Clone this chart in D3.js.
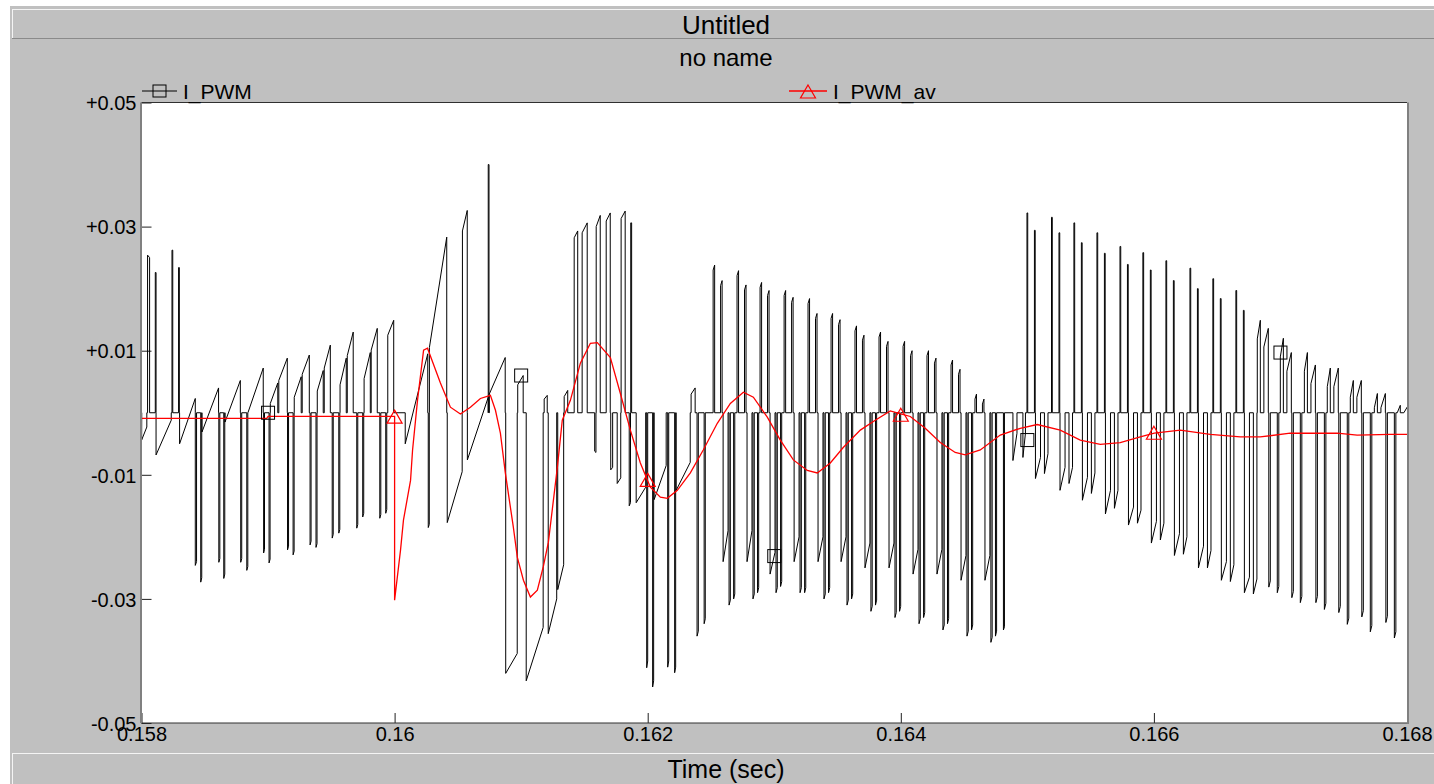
<!DOCTYPE html>
<html>
<head>
<meta charset="utf-8">
<script src="https://cdn.jsdelivr.net/npm/d3@7"></script>
<style>
  body { margin: 0; background: #ffffff; }
  svg text { font-family: "Liberation Sans", Arial, sans-serif; fill: #000; }
</style>
</head>
<body>
<div id="chart"></div>
<script>
// ---- data ----
var chartTitle = "Untitled";
var chartSubtitle = "no name";
var xLabel = "Time (sec)";
var seriesNames = ["I_PWM", "I_PWM_av"];

var xTicks = [0.158, 0.160, 0.162, 0.164, 0.166, 0.168];
var xTickLabels = ["0.158", "0.16", "0.162", "0.164", "0.166", "0.168"];
var yTicks = [0.05, 0.03, 0.01, -0.01, -0.03, -0.05];
var yTickLabels = ["+0.05", "+0.03", "+0.01", "-0.01", "-0.03", "-0.05"];

// I_PWM rests at this level between pulses
var pwmBase = 0.0;

// I_PWM pulses: [start time, end time, start value, end value]
var pwmPulsesA = [
  [0.158001, 0.158042, -0.0044, -0.0023],
  [0.158048, 0.158064, 0.0254, 0.0250],
  [0.158109, 0.158115, 0.0226, 0.0226],
  [0.158115, 0.158235, -0.0068, -0.0012],
  [0.158241, 0.158247, 0.0262, 0.0262],
  [0.158293, 0.158299, 0.0234, 0.0234],
  [0.158301, 0.158425, -0.0050, 0.0023],
  [0.158425, 0.158435, -0.0246, -0.0240],
  [0.158468, 0.158476, -0.0273, -0.0266],
  [0.158478, 0.158609, -0.0031, 0.0040],
  [0.158611, 0.158619, -0.0241, -0.0235],
  [0.158650, 0.158658, -0.0267, -0.0260],
  [0.158660, 0.158781, -0.0015, 0.0052],
  [0.158784, 0.158792, -0.0241, -0.0235],
  [0.158832, 0.158840, -0.0254, -0.0248],
  [0.158841, 0.158962, 0.0000, 0.0072],
  [0.158965, 0.158972, -0.0226, -0.0220],
  [0.159008, 0.159016, -0.0242, -0.0236],
  [0.159018, 0.159077, 0.0015, 0.0048],
  [0.159085, 0.159152, 0.0052, 0.0088],
  [0.159154, 0.159162, -0.0221, -0.0215],
  [0.159198, 0.159206, -0.0229, -0.0223],
  [0.159207, 0.159262, 0.0025, 0.0058],
  [0.159270, 0.159326, 0.0062, 0.0093],
  [0.159332, 0.159340, -0.0213, -0.0207],
  [0.159379, 0.159387, -0.0217, -0.0211],
  [0.159389, 0.159436, 0.0035, 0.0068],
  [0.159444, 0.159492, 0.0072, 0.0109],
  [0.159507, 0.159515, -0.0202, -0.0196],
  [0.159559, 0.159567, -0.0194, -0.0188],
  [0.159569, 0.159618, 0.0045, 0.0088],
  [0.159626, 0.159673, 0.0092, 0.0130],
  [0.159701, 0.159709, -0.0186, -0.0180],
  [0.159748, 0.159756, -0.0168, -0.0162],
  [0.159759, 0.159808, 0.0055, 0.0097],
  [0.159815, 0.159863, 0.0101, 0.0136],
  [0.159883, 0.159891, -0.0170, -0.0164],
  [0.159930, 0.159938, -0.0162, -0.0156],
  [0.159946, 0.159993, 0.0125, 0.0149]
];

var pwmPulsesB = [
  [0.160084, 0.160262, -0.0050, 0.0095],
  [0.160266, 0.160274, -0.0185, -0.0180],
  [0.160275, 0.160412, 0.0105, 0.0283],
  [0.160416, 0.160534, -0.0177, -0.0095],
  [0.160536, 0.160574, 0.0293, 0.0326],
  [0.160575, 0.160740, -0.0076, 0.0025],
  [0.160740, 0.160746, 0.0400, 0.0400],
  [0.160748, 0.160874, 0.0030, 0.0089],
  [0.160878, 0.160969, -0.0420, -0.0388],
  [0.160973, 0.161016, 0.0045, 0.0060],
  [0.161040, 0.161174, -0.0432, -0.0346],
  [0.161182, 0.161206, 0.0022, 0.0028],
  [0.161214, 0.161281, -0.0356, -0.0300],
  [0.161289, 0.161336, -0.0285, -0.0245],
  [0.161340, 0.161368, 0.0026, 0.0036]
];

var pwmPulsesC = [
  [0.161419, 0.161447, 0.0282, 0.0293],
  [0.161482, 0.161522, 0.0290, 0.0306],
  [0.161581, 0.161591, -0.0062, -0.0064],
  [0.161593, 0.161625, 0.0300, 0.0318],
  [0.161672, 0.161704, 0.0309, 0.0322],
  [0.161708, 0.161723, -0.0092, -0.0088],
  [0.161759, 0.161787, -0.0114, -0.0105],
  [0.161790, 0.161822, 0.0313, 0.0325],
  [0.161854, 0.161864, -0.0150, -0.0145],
  [0.161866, 0.161873, 0.0306, 0.0306],
  [0.161909, 0.161984, -0.0145, -0.0120],
  [0.161992, 0.162000, -0.0411, -0.0400],
  [0.162039, 0.162047, -0.0442, -0.0432],
  [0.162051, 0.162146, -0.0140, -0.0085],
  [0.162158, 0.162166, -0.0410, -0.0400],
  [0.162213, 0.162221, -0.0419, -0.0410],
  [0.162225, 0.162336, -0.0125, -0.0080],
  [0.162343, 0.162375, 0.0030, 0.0040],
  [0.162390, 0.162400, -0.0360, -0.0352],
  [0.162446, 0.162455, -0.0340, -0.0332]
];

// single pulses between the two regular stretches
var pwmPulsesDE = [
  [0.164811, 0.164819, -0.0350, -0.0345],
  [0.164886, 0.164918, -0.0077, -0.0033],
  [0.164965, 0.164985, -0.0072, -0.0033]
];

// regular switching stretch D: cycle start times, pulse timing inside a cycle (microseconds)
// and per cycle the [start, end] value of each pulse
var cycleStartD = [0.162517, 0.162706, 0.162888, 0.163078, 0.163267, 0.163449,
  0.163638, 0.163828, 0.164018, 0.164207, 0.164397, 0.164586];
var patternD = [[0, 12], [59, 71], [79, 118], [126, 136], [162, 171]];
var levelsD = [
  [[0.0230, 0.0238], [0.0205, 0.0213], [-0.0240, -0.0190], [-0.0310, -0.0302], [-0.0300, -0.0292]],
  [[0.0221, 0.0229], [0.0198, 0.0206], [-0.0240, -0.0190], [-0.0300, -0.0292], [-0.0290, -0.0282]],
  [[0.0202, 0.0210], [0.0189, 0.0197], [-0.0260, -0.0225], [-0.0290, -0.0282], [-0.0280, -0.0272]],
  [[0.0189, 0.0197], [0.0178, 0.0186], [-0.0240, -0.0200], [-0.0290, -0.0282], [-0.0290, -0.0282]],
  [[0.0176, 0.0184], [0.0152, 0.0160], [-0.0240, -0.0200], [-0.0300, -0.0292], [-0.0290, -0.0282]],
  [[0.0152, 0.0160], [0.0142, 0.0150], [-0.0240, -0.0200], [-0.0310, -0.0302], [-0.0300, -0.0292]],
  [[0.0132, 0.0140], [0.0117, 0.0125], [-0.0250, -0.0210], [-0.0320, -0.0312], [-0.0310, -0.0302]],
  [[0.0122, 0.0130], [0.0107, 0.0115], [-0.0250, -0.0210], [-0.0330, -0.0322], [-0.0320, -0.0312]],
  [[0.0107, 0.0115], [0.0092, 0.0100], [-0.0260, -0.0220], [-0.0340, -0.0332], [-0.0330, -0.0322]],
  [[0.0092, 0.0100], [0.0080, 0.0088], [-0.0260, -0.0220], [-0.0350, -0.0342], [-0.0340, -0.0332]],
  [[0.0077, 0.0085], [0.0062, 0.0070], [-0.0270, -0.0230], [-0.0360, -0.0352], [-0.0350, -0.0342]],
  [[0.0022, 0.0030], [0.0014, 0.0022], [-0.0270, -0.0230], [-0.0370, -0.0362], [-0.0360, -0.0352]]
];

// stretch E1: thin positive spikes and shallow negative ramps
var cycleStartE1 = [0.164997, 0.165191, 0.165368, 0.165550, 0.165732,
  0.165913, 0.166095, 0.166285, 0.166466, 0.166648];
var patternE1 = [[0, 6], [59, 65], [67, 107], [138, 166]];
var levelsE1 = [
  [[0.0322, 0.0322], [0.0294, 0.0294], [-0.0106, -0.0072], [-0.0098, -0.0066]],
  [[0.0315, 0.0315], [0.0290, 0.0290], [-0.0125, -0.0088], [-0.0114, -0.0088]],
  [[0.0306, 0.0306], [0.0274, 0.0274], [-0.0141, -0.0104], [-0.0130, -0.0097]],
  [[0.0290, 0.0290], [0.0257, 0.0257], [-0.0163, -0.0125], [-0.0154, -0.0125]],
  [[0.0268, 0.0268], [0.0239, 0.0239], [-0.0181, -0.0152], [-0.0178, -0.0157]],
  [[0.0258, 0.0258], [0.0230, 0.0230], [-0.0210, -0.0175], [-0.0205, -0.0178]],
  [[0.0245, 0.0245], [0.0213, 0.0213], [-0.0230, -0.0195], [-0.0228, -0.0200]],
  [[0.0233, 0.0233], [0.0200, 0.0200], [-0.0250, -0.0215], [-0.0250, -0.0222]],
  [[0.0216, 0.0216], [0.0184, 0.0184], [-0.0270, -0.0240], [-0.0272, -0.0245]],
  [[0.0197, 0.0197], [0.0165, 0.0165], [-0.0290, -0.0265], [-0.0292, -0.0268]]
];

// stretch E2: wider positive ramps and deep thin negative spikes
var cycleStartE2 = [0.166837, 0.167019, 0.167209, 0.167390, 0.167572, 0.167762, 0.167943];
var patternE2 = [[-20, 4], [32, 67], [71, 83], [138, 150]];
var levelsE2 = [
  [[0.0119, 0.0149], [0.0106, 0.0136], [-0.0281, -0.0271], [-0.0290, -0.0280]],
  [[0.0090, 0.0120], [0.0067, 0.0097], [-0.0298, -0.0288], [-0.0306, -0.0296]],
  [[0.0067, 0.0097], [0.0047, 0.0077], [-0.0306, -0.0296], [-0.0317, -0.0307]],
  [[0.0042, 0.0072], [0.0042, 0.0072], [-0.0322, -0.0312], [-0.0341, -0.0331]],
  [[0.0025, 0.0052], [0.0025, 0.0052], [-0.0329, -0.0319], [-0.0353, -0.0343]],
  [[0.0008, 0.0031], [0.0008, 0.0031], [-0.0338, -0.0328], [-0.0363, -0.0353]],
  [[0.0000, 0.0012], [0.0000, 0.0012], [-0.0340, -0.0330], [-0.0360, -0.0350]]
];

// I_PWM_av, the averaged current
var avTime = [0.158, 0.15899, 0.159, 0.160, 0.160, 0.160047, 0.16007, 0.160126, 0.160142, 0.160181,
  0.160229, 0.16026, 0.160362, 0.160441, 0.16052, 0.160599, 0.160678, 0.160757, 0.160797, 0.160836,
  0.160875, 0.160938, 0.16097, 0.161018, 0.161073, 0.161128, 0.161175, 0.161215, 0.161286, 0.161325,
  0.161389, 0.161468, 0.161547, 0.161602, 0.161705, 0.161784, 0.161863, 0.161942, 0.162021, 0.1621,
  0.162155, 0.162234, 0.162337, 0.162439, 0.16255, 0.162653, 0.162756, 0.162835, 0.162945, 0.163048,
  0.163151, 0.163261, 0.16334, 0.163443, 0.163545, 0.16368, 0.163798, 0.163917, 0.164, 0.164075,
  0.164193, 0.164312, 0.16443, 0.164509, 0.164628, 0.164786, 0.164944, 0.165078, 0.16526, 0.165418,
  0.165576, 0.165734, 0.165892, 0.166003, 0.166208, 0.166445, 0.166682, 0.16684, 0.167077, 0.167448,
  0.167606, 0.167867, 0.168];
var avValue = [-0.0009, -0.0009, -0.0006, -0.0006, -0.0302, -0.0221, -0.0173, -0.0109, -0.0060, 0.0020,
  0.0101, 0.0104, 0.0048, 0.0009, -0.0002, 0.0009, 0.0023, 0.0028, 0.0004, -0.0033,
  -0.0097, -0.0184, -0.0233, -0.0270, -0.0297, -0.0286, -0.0248, -0.0209, -0.0088, -0.0012,
  0.0020, 0.0080, 0.0112, 0.0113, 0.0089, 0.0031, -0.0028, -0.0081, -0.0120, -0.0136,
  -0.0138, -0.0125, -0.0097, -0.0060, -0.0017, 0.0015, 0.0033, 0.0025, -0.0007, -0.0044,
  -0.0076, -0.0093, -0.0097, -0.0081, -0.0056, -0.0028, -0.0012, 0.0003, -0.0002, -0.0006,
  -0.0025, -0.0048, -0.0064, -0.0068, -0.0060, -0.0036, -0.0025, -0.0019, -0.0028, -0.0044,
  -0.0051, -0.0048, -0.0039, -0.0033, -0.0028, -0.0035, -0.0039, -0.0039, -0.0033, -0.0033,
  -0.0036, -0.0035, -0.0035];

// marker symbols sitting on the traces
var squareTime = [0.159, 0.161, 0.163, 0.165, 0.167];
var squareValue = [0.0000, 0.0060, -0.0231, -0.0044, 0.0097];
var triangleTime = [0.160, 0.162, 0.164, 0.166];
var triangleValue = [-0.0007, -0.0109, -0.0004, -0.0033];

// ---- drawing ----
var W = 1434, H = 784;
var plot = {left: 141.5, right: 1407, top: 102.5, bottom: 723};

var svg = d3.select("#chart").append("svg")
  .attr("width", W)
  .attr("height", H);

// window background and the two raised bars
svg.append("rect").attr("x", 10).attr("y", 6).attr("width", W - 10).attr("height", H - 6).attr("fill", "#c0c0c0");

function bar(y, h) {
  svg.append("rect").attr("x", 12).attr("y", y).attr("width", W - 12).attr("height", h).attr("fill", "#c0c0c0");
  svg.append("line").attr("x1", 12).attr("x2", W).attr("y1", y + 0.5).attr("y2", y + 0.5).attr("stroke", "#f4f4f4");
  svg.append("line").attr("x1", 12.5).attr("x2", 12.5).attr("y1", y).attr("y2", y + h).attr("stroke", "#f4f4f4");
  svg.append("line").attr("x1", 12).attr("x2", W).attr("y1", y + h - 0.5).attr("y2", y + h - 0.5).attr("stroke", "#8a8a8a");
}
bar(9, 30);
bar(753, 40);

svg.append("text").attr("x", 726).attr("y", 34).attr("text-anchor", "middle")
  .style("font-size", "26px").text(chartTitle);
svg.append("text").attr("x", 726).attr("y", 66).attr("text-anchor", "middle")
  .style("font-size", "24px").text(chartSubtitle);
svg.append("text").attr("x", 726).attr("y", 778).attr("text-anchor", "middle")
  .style("font-size", "25px").text(xLabel);

// plot area
svg.append("rect")
  .attr("x", plot.left).attr("y", plot.top)
  .attr("width", plot.right - plot.left).attr("height", plot.bottom - plot.top)
  .attr("fill", "#ffffff");

var x = d3.scaleLinear().domain([0.158, 0.168]).range([plot.left, plot.right]);
var y = d3.scaleLinear().domain([-0.05, 0.05]).range([plot.bottom, plot.top]);

var xAxis = d3.axisBottom(x)
  .tickValues(xTicks)
  .tickSize(-10)
  .tickPadding(4)
  .tickFormat(function(d, i){ return xTickLabels[i]; });

var yAxis = d3.axisLeft(y)
  .tickValues(yTicks)
  .tickSize(-10)
  .tickPadding(5)
  .tickFormat(function(d, i){ return yTickLabels[i]; });

var gx = svg.append("g")
  .attr("transform", "translate(0," + plot.bottom + ")")
  .call(xAxis);
var gy = svg.append("g")
  .attr("transform", "translate(" + plot.left + ",0)")
  .call(yAxis);

[gx, gy].forEach(function(g){
  g.select(".domain").remove();
  g.selectAll(".tick line").attr("stroke", "#202020");
  g.selectAll(".tick text")
    .style("font-family", "'Liberation Sans', Arial, sans-serif")
    .style("font-size", "20px")
    .attr("fill", "#000");
});
gy.selectAll(".tick text").attr("dy", "0.36em");

// turn the regular stretches into pulses
function expandCycles(starts, pattern, levels) {
  var out = [];
  starts.forEach(function(t, i){
    pattern.forEach(function(p, k){
      out.push([t + p[0] * 1e-6, t + p[1] * 1e-6, levels[i][k][0], levels[i][k][1]]);
    });
  });
  return out;
}

// build the I_PWM step trace from the pulse lists
var pulses = pwmPulsesA.concat(pwmPulsesB, pwmPulsesC, pwmPulsesDE,
  expandCycles(cycleStartD, patternD, levelsD),
  expandCycles(cycleStartE1, patternE1, levelsE1),
  expandCycles(cycleStartE2, patternE2, levelsE2));
pulses.sort(function(a, b){ return a[0] - b[0]; });

var pwmPoints = [[0.158, pulses[0][2]]];
pulses.forEach(function(p){
  pwmPoints.push([p[0], pwmBase]);
  pwmPoints.push([p[0], p[2]]);
  pwmPoints.push([p[1], p[3]]);
  pwmPoints.push([p[1], pwmBase]);
});
pwmPoints.push([0.168, pwmBase]);

var line = d3.line()
  .x(function(d){ return x(d[0]); })
  .y(function(d){ return y(d[1]); });

svg.append("clipPath").attr("id", "clip")
  .append("rect")
  .attr("x", plot.left).attr("y", plot.top)
  .attr("width", plot.right - plot.left).attr("height", plot.bottom - plot.top);

var traces = svg.append("g").attr("clip-path", "url(#clip)");

traces.append("path")
  .datum(pwmPoints)
  .attr("d", line)
  .attr("fill", "none")
  .attr("stroke", "#000000")
  .attr("stroke-width", 1);

var avPoints = avTime.map(function(t, i){ return [t, avValue[i]]; });
traces.append("path")
  .datum(avPoints)
  .attr("d", line)
  .attr("fill", "none")
  .attr("stroke", "#ff0000")
  .attr("stroke-width", 1.3);

// markers
var sq = 13;
traces.selectAll(".sq")
  .data(squareTime)
  .enter().append("rect")
  .attr("class", "sq")
  .attr("x", function(d){ return x(d) - sq / 2; })
  .attr("y", function(d, i){ return y(squareValue[i]) - sq / 2; })
  .attr("width", sq).attr("height", sq)
  .attr("fill", "none").attr("stroke", "#000").attr("stroke-width", 1);

function triPath(cx, cy) {
  return "M" + cx + "," + (cy - 7) + "L" + (cx + 7.5) + "," + (cy + 6) + "L" + (cx - 7.5) + "," + (cy + 6) + "Z";
}
traces.selectAll(".tri")
  .data(triangleTime)
  .enter().append("path")
  .attr("class", "tri")
  .attr("d", function(d, i){ return triPath(x(d), y(triangleValue[i])); })
  .attr("fill", "none").attr("stroke", "#ff0000").attr("stroke-width", 1.2);

// frame of the plot
svg.append("line").attr("x1", plot.left).attr("x2", plot.right).attr("y1", plot.top).attr("y2", plot.top).attr("stroke", "#303030");
svg.append("line").attr("x1", plot.left).attr("x2", plot.right).attr("y1", plot.bottom).attr("y2", plot.bottom).attr("stroke", "#303030");
svg.append("line").attr("x1", plot.left - 0.5).attr("x2", plot.left - 0.5).attr("y1", plot.top).attr("y2", plot.bottom).attr("stroke", "#808080").attr("stroke-width", 2);
svg.append("line").attr("x1", plot.right + 1).attr("x2", plot.right + 1).attr("y1", plot.top).attr("y2", plot.bottom + 1).attr("stroke", "#808080").attr("stroke-width", 2);

// legend
var legend = svg.append("g");
legend.append("line").attr("x1", 142).attr("x2", 177).attr("y1", 91).attr("y2", 91).attr("stroke", "#000");
legend.append("rect").attr("x", 153).attr("y", 85).attr("width", 13).attr("height", 12)
  .attr("fill", "none").attr("stroke", "#000");
legend.append("text").attr("x", 183).attr("y", 99).style("font-size", "21px").text(seriesNames[0]);

legend.append("line").attr("x1", 789).attr("x2", 827).attr("y1", 91).attr("y2", 91).attr("stroke", "#ff0000").attr("stroke-width", 1.3);
legend.append("path").attr("d", triPath(808, 92)).attr("fill", "none").attr("stroke", "#ff0000").attr("stroke-width", 1.2);
legend.append("text").attr("x", 833).attr("y", 99).style("font-size", "21px").text(seriesNames[1]);
</script>
</body>
</html>
